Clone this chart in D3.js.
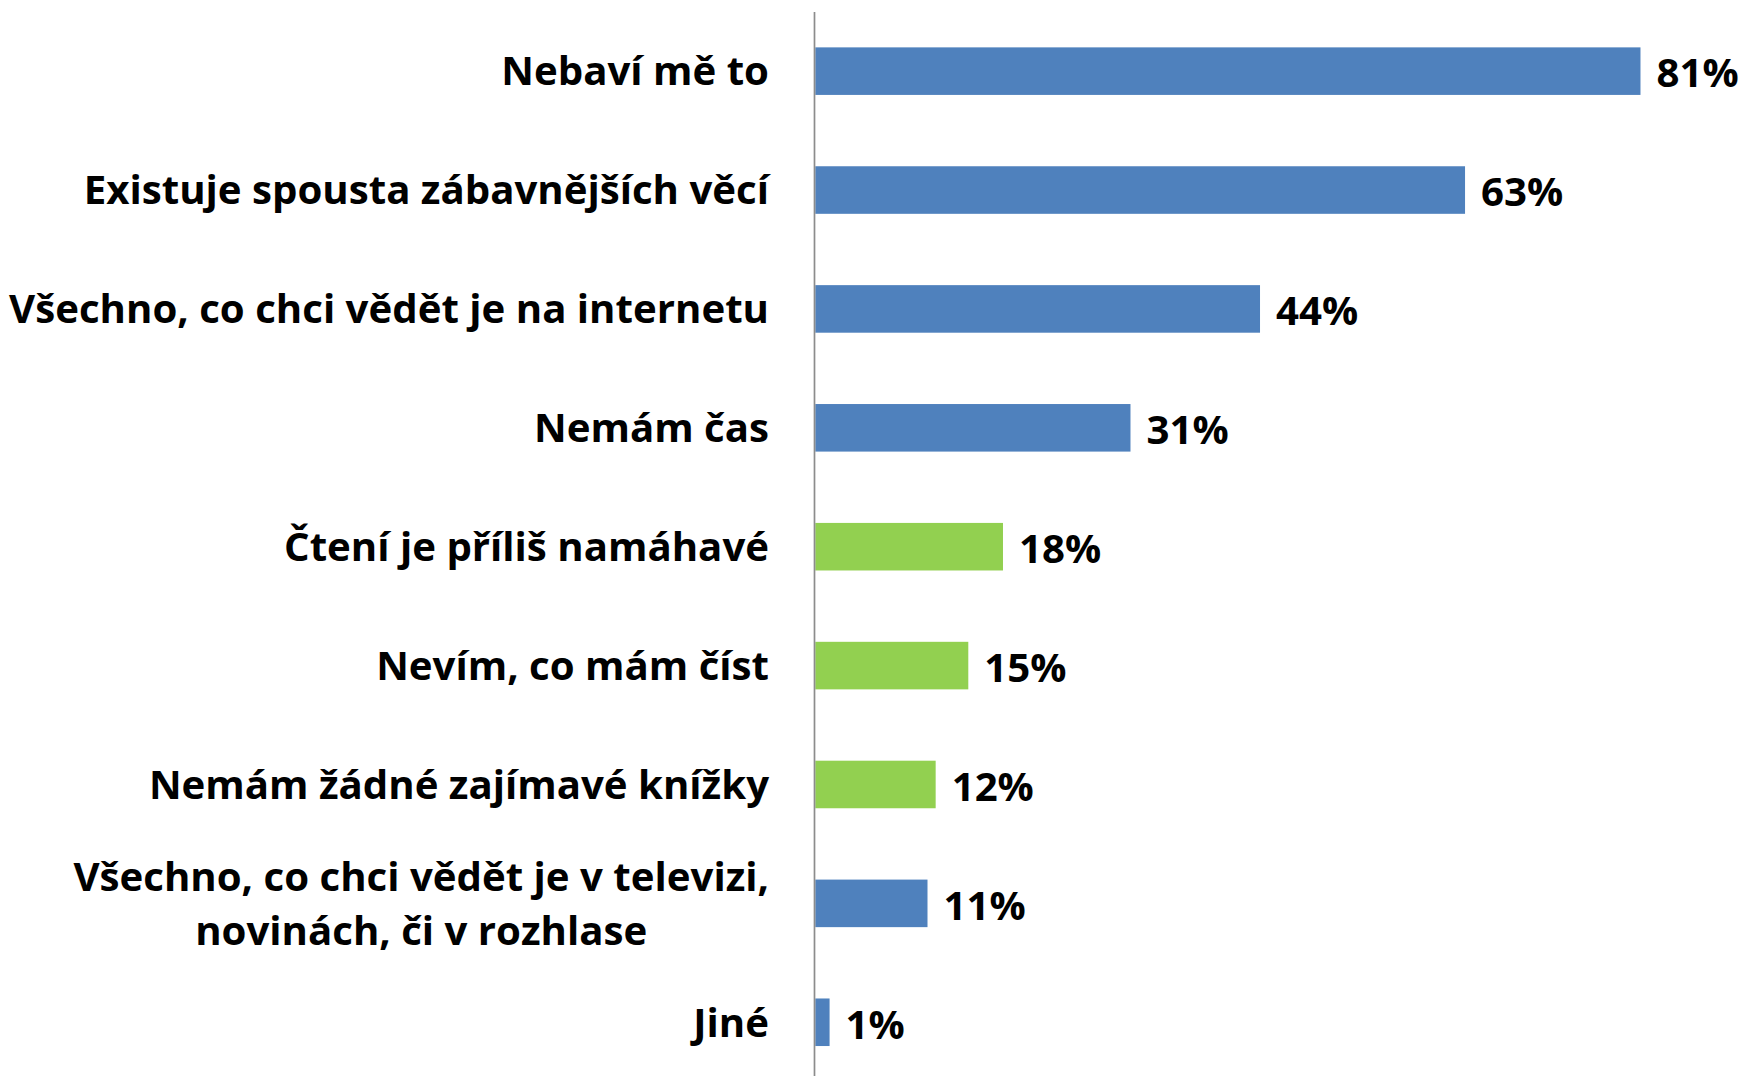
<!DOCTYPE html>
<html>
<head>
<meta charset="utf-8">
<script src="https://cdn.jsdelivr.net/npm/d3@7"></script>
<style>
  html, body { margin: 0; padding: 0; background: #fff; }
  svg { display: block; }
  text { font-family: "Open Sans", Lato, sans-serif; font-weight: 700; fill: #000; }
</style>
</head>
<body>
<svg id="chart" width="1745" height="1076"></svg>
<script>
// ---- data ----
const categories = [
  "Nebaví mě to",
  "Existuje spousta zábavnějších věcí",
  "Všechno, co chci vědět je na internetu",
  "Nemám čas",
  "Čtení je příliš namáhavé",
  "Nevím, co mám číst",
  "Nemám žádné zajímavé knížky",
  "Všechno, co chci vědět je v televizi,\nnovinách, či v rozhlase",
  "Jiné"
];
const values = [80.9, 63.7, 43.6, 30.9, 18.4, 15.0, 11.8, 11.0, 1.4];
const valueLabels = ["81%", "63%", "44%", "31%", "18%", "15%", "12%", "11%", "1%"];
const groups = ["a", "a", "a", "a", "b", "b", "b", "a", "a"];

// ---- styles ----
const groupColor = { a: "#4F81BD", b: "#92D050" };
const fontSize = 40.2;
const capH = fontSize * 0.714;

const svg = d3.select("#chart");
const x0 = 815.3;
const x = d3.scaleLinear().domain([0, 100]).range([x0, x0 + 1020]);
const y = d3.scaleBand().domain(categories).range([11.7, 1081.7])
  .paddingInner(0.6).paddingOuter(0.3);

// bars
svg.append("g").selectAll("rect").data(categories).join("rect")
  .attr("x", x(0))
  .attr("y", d => y(d))
  .attr("width", (d, i) => x(values[i]) - x(0))
  .attr("height", y.bandwidth())
  .attr("fill", (d, i) => groupColor[groups[i]]);

// axis line
const axis = d3.axisLeft(y).tickSize(0).tickFormat("");
const ag = svg.append("g").attr("transform", `translate(${x0 - 0.8},0)`).call(axis);
ag.select(".domain").attr("stroke", "#8c8c8c").attr("stroke-width", 1.7)
  .attr("d", "M0,12V1076");

// category labels
const labelRight = 769;
svg.append("g").selectAll("text").data(categories).join("text")
  .attr("text-anchor", "middle")
  .style("font-size", fontSize + "px")
  .each(function(d) {
    const lines = d.split("\n");
    const t = d3.select(this);
    const cy = y(d) + y.bandwidth() / 2;
    const lh = 54;
    const top = cy - (lines.length - 1) * lh / 2 + capH / 2;
    const spans = lines.map((ln, k) =>
      t.append("tspan").attr("x", 0).attr("y", top + k * lh).text(ln));
    const w = d3.max(spans, s => s.node().getComputedTextLength());
    spans.forEach(s => s.attr("x", labelRight - w / 2));
  });

// value labels
svg.append("g").selectAll("text").data(categories).join("text")
  .attr("x", (d, i) => x(values[i]) + 16)
  .attr("y", d => y(d) + y.bandwidth() / 2 + capH / 2 + 2)
  .style("font-size", fontSize + "px")
  .text((d, i) => valueLabels[i]);
</script>
</body>
</html>
